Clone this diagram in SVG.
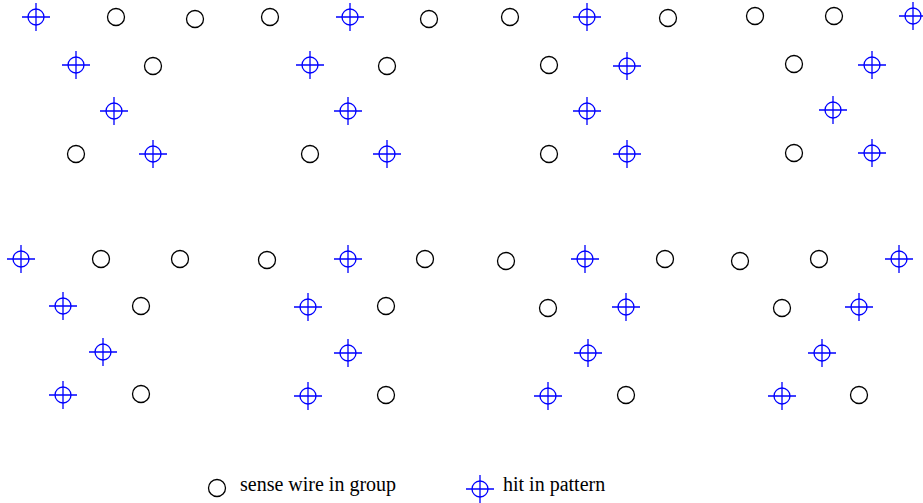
<svg xmlns="http://www.w3.org/2000/svg" xmlns:xlink="http://www.w3.org/1999/xlink" width="923" height="503" viewBox="0 0 923 503">
<style>
.w{fill:none;stroke:#000;stroke-width:1.3}
.h{fill:none;stroke:#0000ff;stroke-width:1.3}
.t{font-family:"Liberation Serif",serif;font-size:20px;fill:#000}
</style>
<defs>
<g id="wire"><circle class="w" r="8.5"/></g>
<g id="hit"><circle class="h" r="8"/><path class="h" d="M-14 0H14M0 -14V14"/></g>
</defs>
<rect width="923" height="503" fill="#fff"/>
<g id="connectors"/>
<g id="panel1">
<use xlink:href="#hit" x="36" y="17"/><use xlink:href="#wire" x="116" y="17"/><use xlink:href="#wire" x="195" y="19"/>
<use xlink:href="#hit" x="76" y="65"/><use xlink:href="#wire" x="153" y="66"/>
<use xlink:href="#hit" x="114" y="111"/>
<use xlink:href="#wire" x="76" y="154"/><use xlink:href="#hit" x="153" y="154"/>
</g>
<g id="panel2">
<use xlink:href="#wire" x="270" y="17"/><use xlink:href="#hit" x="350" y="17"/><use xlink:href="#wire" x="429" y="19"/>
<use xlink:href="#hit" x="310" y="65"/><use xlink:href="#wire" x="387" y="66"/>
<use xlink:href="#hit" x="348" y="111"/>
<use xlink:href="#wire" x="310" y="154"/><use xlink:href="#hit" x="387" y="154"/>
</g>
<g id="panel3">
<use xlink:href="#wire" x="510" y="17"/><use xlink:href="#hit" x="587" y="17"/><use xlink:href="#wire" x="668" y="18"/>
<use xlink:href="#wire" x="549" y="65"/><use xlink:href="#hit" x="627" y="66"/>
<use xlink:href="#hit" x="587" y="111"/>
<use xlink:href="#wire" x="549" y="154"/><use xlink:href="#hit" x="627" y="154"/>
</g>
<g id="panel4">
<use xlink:href="#wire" x="755" y="16"/><use xlink:href="#wire" x="834" y="16"/><use xlink:href="#hit" x="913" y="16"/>
<use xlink:href="#wire" x="794" y="64"/><use xlink:href="#hit" x="872" y="65"/>
<use xlink:href="#hit" x="833" y="110"/>
<use xlink:href="#wire" x="794" y="153"/><use xlink:href="#hit" x="872" y="153"/>
</g>
<g id="panel5">
<use xlink:href="#hit" x="21" y="259"/><use xlink:href="#wire" x="101" y="259"/><use xlink:href="#wire" x="180" y="259"/>
<use xlink:href="#hit" x="63" y="306"/><use xlink:href="#wire" x="141" y="306"/>
<use xlink:href="#hit" x="103" y="352"/>
<use xlink:href="#hit" x="63" y="395"/><use xlink:href="#wire" x="141" y="394"/>
</g>
<g id="panel6">
<use xlink:href="#wire" x="267" y="260"/><use xlink:href="#hit" x="348" y="259"/><use xlink:href="#wire" x="425" y="259"/>
<use xlink:href="#hit" x="308" y="307"/><use xlink:href="#wire" x="386" y="306"/>
<use xlink:href="#hit" x="348" y="353"/>
<use xlink:href="#hit" x="308" y="396"/><use xlink:href="#wire" x="386" y="395"/>
</g>
<g id="panel7">
<use xlink:href="#wire" x="506" y="261"/><use xlink:href="#hit" x="585" y="259"/><use xlink:href="#wire" x="665" y="259"/>
<use xlink:href="#wire" x="548" y="308"/><use xlink:href="#hit" x="626" y="307"/>
<use xlink:href="#hit" x="588" y="353"/>
<use xlink:href="#hit" x="548" y="396"/><use xlink:href="#wire" x="626" y="395"/>
</g>
<g id="panel8">
<use xlink:href="#wire" x="740" y="261"/><use xlink:href="#wire" x="819" y="259"/><use xlink:href="#hit" x="899" y="259"/>
<use xlink:href="#wire" x="782" y="308"/><use xlink:href="#hit" x="859" y="307"/>
<use xlink:href="#hit" x="822" y="353"/>
<use xlink:href="#hit" x="782" y="396"/><use xlink:href="#wire" x="859" y="395"/>
</g>
<g id="legend">
<use xlink:href="#wire" x="217" y="488"/>
<text class="t" x="240" y="491">sense wire in group</text>
<use xlink:href="#hit" x="480" y="489"/>
<text class="t" x="503" y="491">hit in pattern</text>
</g>
</svg>
